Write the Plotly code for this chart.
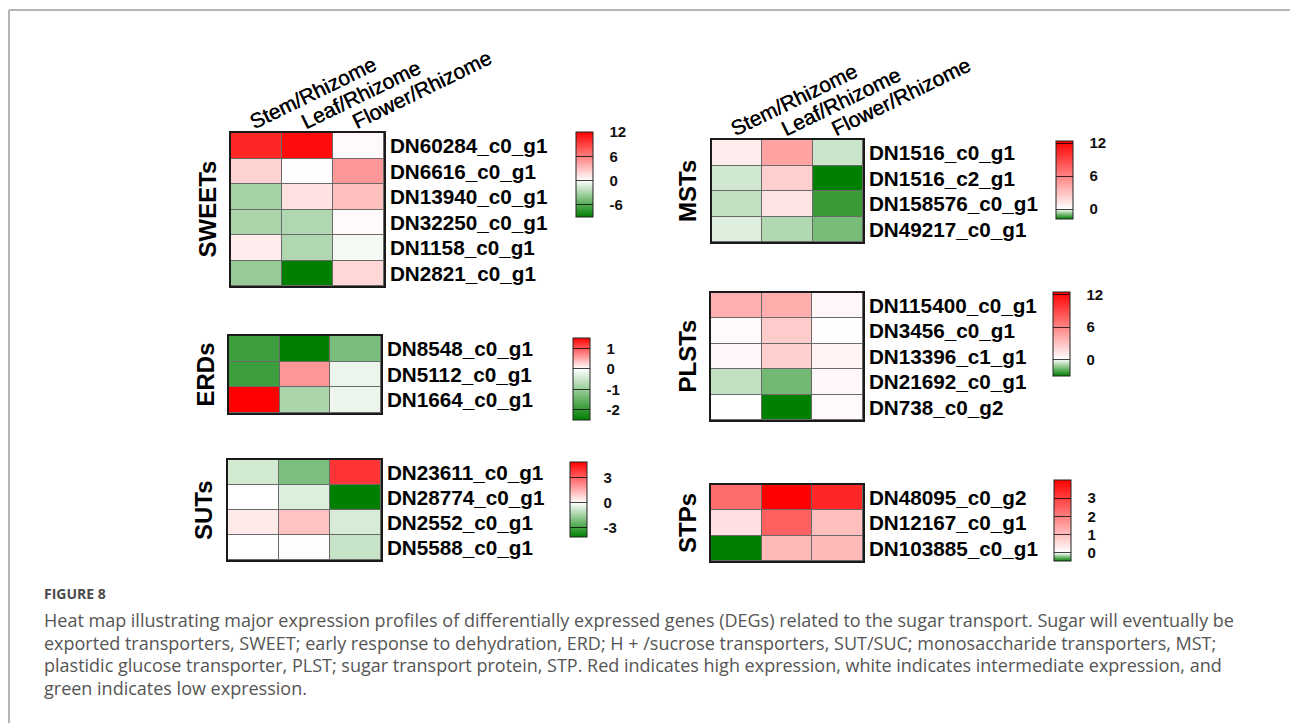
import plotly.graph_objects as go

W, H = 1290, 723

categories = ["Stem/Rhizome", "Leaf/Rhizome", "Flower/Rhizome"]

sweet_genes = ["DN60284_c0_g1", "DN6616_c0_g1", "DN13940_c0_g1",
               "DN32250_c0_g1", "DN1158_c0_g1", "DN2821_c0_g1"]
sweet_values = [[10.2, 11.5, 0.3],
                [2.1, 0.1, 4.9],
                [-3.2, 1.4, 3.0],
                [-3.0, -2.8, 0.2],
                [0.9, -2.8, -0.4],
                [-3.7, -9.0, 1.9]]
sweet_range = [-9.0, 12.0]
sweet_ticks = [12, 6, 0, -6]

erd_genes = ["DN8548_c0_g1", "DN5112_c0_g1", "DN1664_c0_g1"]
erd_values = [[-1.9, -2.5, -1.3],
              [-1.9, 0.62, -0.2],
              [1.5, -0.83, -0.18]]
erd_range = [-2.5, 1.5]
erd_ticks = [1, 0, -1, -2]

sut_genes = ["DN23611_c0_g1", "DN28774_c0_g1", "DN2552_c0_g1", "DN5588_c0_g1"]
sut_values = [[-0.72, -2.1, 3.9],
              [0.0, -0.56, -4.1],
              [0.4, 1.15, -0.64],
              [0.0, 0.05, -0.88]]
sut_range = [-4.1, 4.9]
sut_ticks = [3, 0, -3]

mst_genes = ["DN1516_c0_g1", "DN1516_c2_g1", "DN158576_c0_g1", "DN49217_c0_g1"]
mst_values = [[0.9, 4.5, -0.37],
              [-0.33, 2.4, -1.8],
              [-0.43, 1.3, -1.4],
              [-0.23, -0.55, -0.95]]
mst_range = [-1.8, 12.4]
mst_ticks = [12, 6, 0]

plst_genes = ["DN115400_c0_g1", "DN3456_c0_g1", "DN13396_c1_g1",
              "DN21692_c0_g1", "DN738_c0_g2"]
plst_values = [[3.9, 4.0, 0.4],
               [0.3, 2.5, 0.1],
               [0.4, 2.4, 0.6],
               [-0.74, -1.7, 0.4],
               [0.0, -3.1, 0.3]]
plst_range = [-3.1, 12.5]
plst_ticks = [12, 6, 0]

stp_genes = ["DN48095_c0_g2", "DN12167_c0_g1", "DN103885_c0_g1"]
stp_values = [[2.3, 4.0, 3.4],
              [0.5, 2.5, 1.0],
              [-0.45, 1.1, 1.1]]
stp_range = [-0.45, 4.0]
stp_ticks = [3, 2, 1, 0]

group_names = ["SWEETs", "ERDs", "SUTs", "MSTs", "PLSTs", "STPs"]

# layout geometry in pixels: heatmap box (x0, x1, y0, y1), colorbar (x, top, len)
boxes = [(231, 384, 133, 286), (229, 381, 336, 413), (228, 381, 460, 560),
         (712, 863, 140, 242), (711, 863, 293, 420), (711, 863, 485, 561)]
cbars = [(576, 132, 85), (573, 338, 82), (570, 462, 75),
         (1056, 141, 78), (1053, 292, 84), (1054, 480, 81)]
show_headers = [True, False, False, True, False, False]

groups = [(sweet_genes, sweet_values, sweet_range, sweet_ticks),
          (erd_genes, erd_values, erd_range, erd_ticks),
          (sut_genes, sut_values, sut_range, sut_ticks),
          (mst_genes, mst_values, mst_range, mst_ticks),
          (plst_genes, plst_values, plst_range, plst_ticks),
          (stp_genes, stp_values, stp_range, stp_ticks)]

FONT = "Liberation Sans, Arial, sans-serif"
PAD = "\u00a0\u00a0\u00a0"

fig = go.Figure()
annotations = []
layout_axes = {}

for i, ((genes, vals, rng, ticks), box, cb, name, hdr) in enumerate(
        zip(groups, boxes, cbars, group_names, show_headers), start=1):
    sfx = "" if i == 1 else str(i)
    x0, x1, y0, y1 = box
    zmin, zmax = rng
    p = -zmin / (zmax - zmin)
    cscale = [[0.0, "#008000"], [p, "#ffffff"], [1.0, "#ff0000"]]
    cbx, cbtop, cblen = cb
    fig.add_trace(go.Heatmap(
        z=vals, x=categories, y=genes,
        zmin=zmin, zmax=zmax, colorscale=cscale,
        xgap=1, ygap=1,
        xaxis="x" + sfx, yaxis="y" + sfx,
        colorbar=dict(
            x=cbx / W, xanchor="left", y=1 - cbtop / H, yanchor="top",
            len=cblen, lenmode="pixels", thickness=17, thicknessmode="pixels",
            xpad=0, ypad=0, outlinewidth=1, outlinecolor="#222",
            tickvals=ticks, ticktext=[PAD + str(t) for t in ticks],
            ticks="inside", ticklen=17, tickwidth=1,
            tickcolor="rgba(0,0,0,0.75)",
            tickfont=dict(family=FONT, size=15, color="#111", weight="bold"),
        ),
        hoverinfo="skip",
    ))
    layout_axes["xaxis" + sfx] = dict(
        domain=[x0 / W, x1 / W], anchor="y" + sfx,
        type="category", range=[-0.5, 2.5], fixedrange=True,
        showticklabels=False, ticks="", showgrid=False, zeroline=False,
        showline=True, mirror=True, linecolor="#1a1a1a", linewidth=1.5,
    )
    layout_axes["yaxis" + sfx] = dict(
        domain=[1 - y1 / H, 1 - y0 / H], anchor="x" + sfx,
        autorange="reversed", side="right", ticks="",
        ticklabelstandoff=0, fixedrange=True,
        tickfont=dict(family=FONT, size=20.7, color="#000", weight="bold"),
        showgrid=False, zeroline=False,
        showline=True, mirror=True, linecolor="#1a1a1a", linewidth=1.5,
    )
    annotations.append(dict(
        text=name, xref="x" + sfx + " domain", yref="y" + sfx + " domain",
        x=0, y=0.5, xanchor="center", yanchor="middle", xshift=-24,
        textangle=-90, showarrow=False,
        font=dict(family=FONT, size=24, color="#000", weight="bold"),
    ))
    if hdr:
        for c in categories:
            annotations.append(dict(
                text=c, xref="x" + sfx, yref="y" + sfx + " domain",
                x=c, y=1, xanchor="left", yanchor="bottom",
                xshift=-13, yshift=-3, textangle=-26, showarrow=False,
                font=dict(family=FONT, size=21, color="#000",
                          shadow="0.4px 0 0 #000"),
            ))

caption_lines = [
    "Heat map illustrating major expression profiles of differentially expressed genes (DEGs) related to the sugar transport. Sugar will eventually be",
    "exported transporters, SWEET; early response to dehydration, ERD; H + /sucrose transporters, SUT/SUC; monosaccharide transporters, MST;",
    "plastidic glucose transporter, PLST; sugar transport protein, STP. Red indicates high expression, white indicates intermediate expression, and",
    "green indicates low expression.",
]
annotations.append(dict(
    text="FIGURE 8", xref="paper", yref="paper", x=42 / W, y=1 - 593 / H,
    xanchor="left", yanchor="middle", showarrow=False,
    font=dict(family="Open Sans, sans-serif", size=14, color="#4a4a4a", weight="bold"),
))
for k, line in enumerate(caption_lines):
    annotations.append(dict(
        text=line, xref="paper", yref="paper", x=42 / W, y=1 - (620 + 22.5 * k) / H,
        xanchor="left", yanchor="middle", showarrow=False,
        font=dict(family="Open Sans, sans-serif", size=18, color="#555555"),
    ))

shapes = [
    dict(type="line", xref="paper", yref="paper", x0=9 / W, x1=1, y0=1 - 10 / H, y1=1 - 10 / H,
         line=dict(color="#b4b4b4", width=2)),
    dict(type="line", xref="paper", yref="paper", x0=9 / W, x1=9 / W, y0=1 - 10 / H, y1=0,
         line=dict(color="#b4b4b4", width=2)),
]

fig.update_layout(
    width=W, height=H, margin=dict(l=0, r=0, t=0, b=0),
    paper_bgcolor="#ffffff", plot_bgcolor="#6a6a6a",
    showlegend=False, annotations=annotations, shapes=shapes,
    **layout_axes,
)

fig.write_html("out.html", config={"displayModeBar": False},
               post_script="document.body.style.margin='0px';")
